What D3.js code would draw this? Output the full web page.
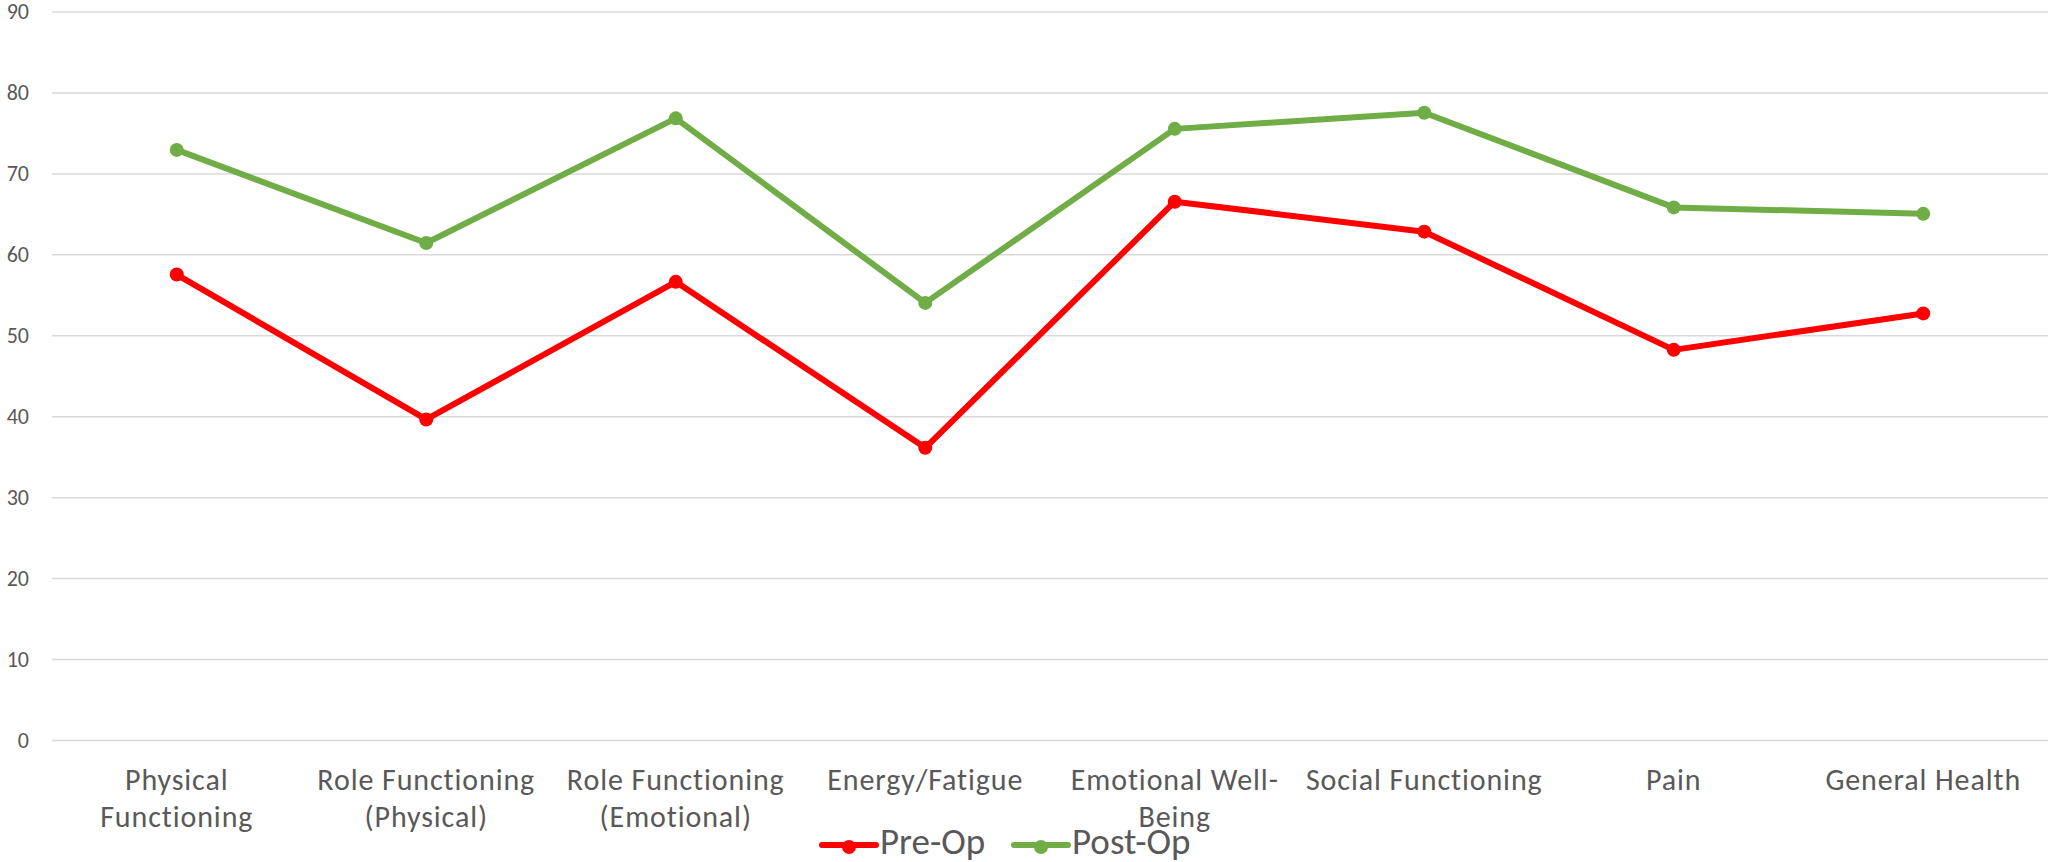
<!DOCTYPE html>
<html>
<head>
<meta charset="utf-8">
<script src="https://cdn.jsdelivr.net/npm/d3@7"></script>
<style>
  html, body { margin: 0; padding: 0; background: #fff; }
  svg text { font-family: Carlito, Calibri, Lato, "Noto Sans", sans-serif; fill: #595959; }
</style>
</head>
<body>
<div id="chart"></div>
<script>
var w = 2048, h = 862;

// data
var categories = ["Physical Functioning", "Role Functioning (Physical)", "Role Functioning (Emotional)",
  "Energy/Fatigue", "Emotional Well-Being", "Social Functioning", "Pain", "General Health"];
var categoryLines = [
  ["Physical", "Functioning"],
  ["Role Functioning", "(Physical)"],
  ["Role Functioning", "(Emotional)"],
  ["Energy/Fatigue"],
  ["Emotional Well-", "Being"],
  ["Social Functioning"],
  ["Pain"],
  ["General Health"]
];
var preOp  = [57.5, 39.6, 56.6, 36.1, 66.5, 62.8, 48.2, 52.7];
var postOp = [72.9, 61.4, 76.8, 54.0, 75.5, 77.5, 65.8, 65.0];
var yTicks = [0, 10, 20, 30, 40, 50, 60, 70, 80, 90];

var series = [
  { name: "Pre-Op",  color: "#ff0000", values: preOp },
  { name: "Post-Op", color: "#70ad47", values: postOp }
];

var plotLeft = 52, plotRight = 2048, plotTop = 11.5, plotBottom = 740;

var svg = d3.select("#chart").append("svg").attr("width", w).attr("height", h);

var x = d3.scaleBand().domain(categories).range([plotLeft, plotRight]).padding(0);
var y = d3.scaleLinear().domain([0, 90]).range([plotBottom, plotTop]);
var cx = function(c){ return x(c) + x.bandwidth()/2; };

/*
 * gridlines + y labels
 */
var yAxis = svg.append("g")
  .attr("transform", "translate(" + plotLeft + ",0)")
  .call(d3.axisLeft(y).tickValues(yTicks).tickSize(-(plotRight-plotLeft)).tickPadding(23));
yAxis.select(".domain").remove();
yAxis.selectAll(".tick line").attr("stroke", "#d9d9d9").attr("stroke-width", 1.5);
yAxis.selectAll(".tick text").attr("font-size", 22).attr("fill", "#595959")
  .style("font-family", "Carlito, Calibri, Lato, sans-serif");

/*
 * category labels
 */
var catG = svg.append("g");
categories.forEach(function(c, i){
  var t = catG.append("text")
    .attr("x", cx(c))
    .attr("y", 790)
    .attr("text-anchor", "middle")
    .attr("font-size", 30)
    .attr("letter-spacing", 0.9);
  categoryLines[i].forEach(function(line, j){
    t.append("tspan").attr("x", cx(c)).attr("dy", j == 0 ? 0 : 37).text(line);
  });
});

/*
 * lines and markers
 */
var line = d3.line()
  .x(function(d, i){ return cx(categories[i]); })
  .y(function(d){ return y(d); });

series.forEach(function(s){
  svg.append("path")
    .datum(s.values)
    .attr("d", line)
    .attr("fill", "none")
    .attr("stroke", s.color)
    .attr("stroke-width", 6)
    .attr("stroke-linejoin", "round");
  svg.append("g").selectAll("circle")
    .data(s.values)
    .enter().append("circle")
    .attr("cx", function(d, i){ return cx(categories[i]); })
    .attr("cy", function(d){ return y(d); })
    .attr("r", 7)
    .attr("fill", s.color);
});

/*
 * legend
 */
var legendX = [822, 1014];
series.forEach(function(s, i){
  var g = svg.append("g").attr("transform", "translate(" + legendX[i] + ",845)");
  g.append("line").attr("x1", 0).attr("x2", 54).attr("y1", 0).attr("y2", 0)
    .attr("stroke", s.color).attr("stroke-width", 6).attr("stroke-linecap", "round");
  g.append("circle").attr("cx", 27).attr("cy", 2).attr("r", 7).attr("fill", s.color);
  g.append("text").attr("x", 58).attr("y", 9).attr("font-size", 37).text(s.name);
});
</script>
</body>
</html>
